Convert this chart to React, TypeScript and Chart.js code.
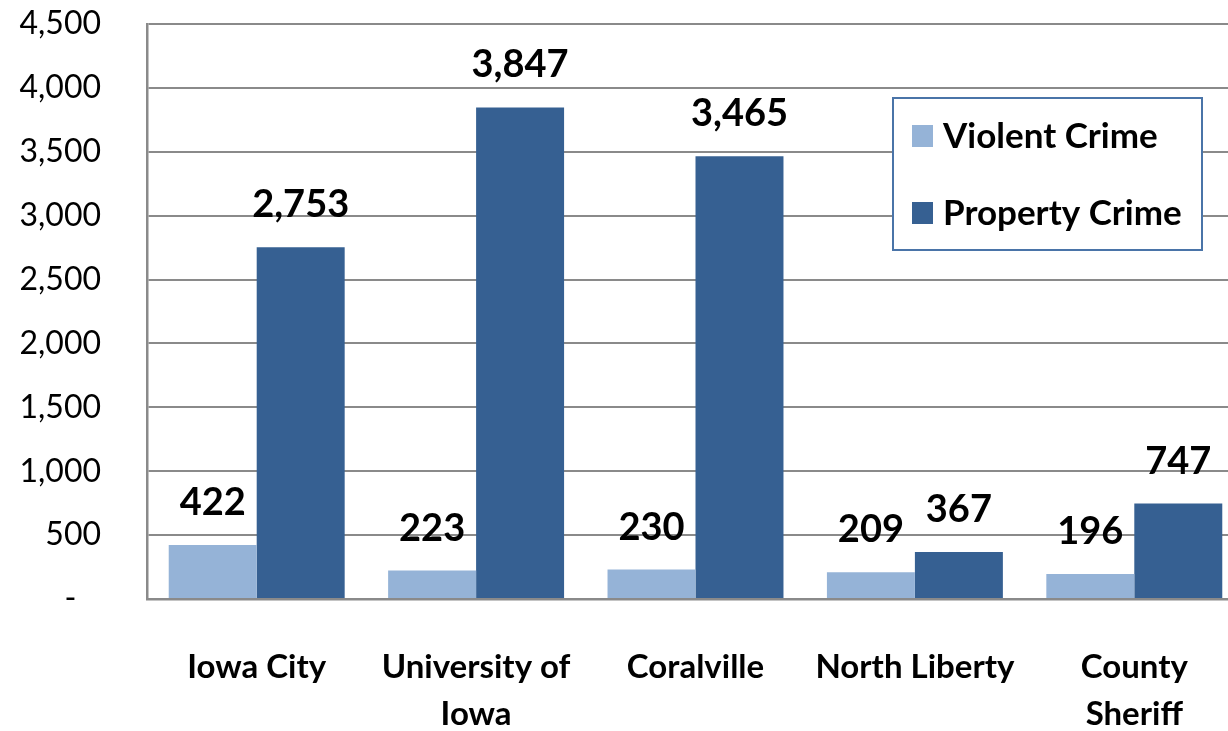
import React, { useEffect, useRef } from "react";
import { Chart, registerables } from "chart.js";

Chart.register(...registerables);

const categories: (string | string[])[] = [
  "Iowa City",
  ["University of", "Iowa"],
  "Coralville",
  "North Liberty",
  ["County", "Sheriff"],
];
const violentCrime = [422, 223, 230, 209, 196];
const propertyCrime = [2753, 3847, 3465, 367, 747];
const seriesNames = ["Violent Crime", "Property Crime"];
const seriesColors = ["#95B3D7", "#366092"];

const FONT = "Lato, 'Open Sans', 'DejaVu Sans', sans-serif";

const valueLabels = {
  id: "valueLabels",
  afterDatasetsDraw(chart: any) {
    const ctx = chart.ctx;
    ctx.save();
    ctx.font = `bold 38px ${FONT}`;
    ctx.fillStyle = "#000";
    ctx.textAlign = "center";
    ctx.textBaseline = "alphabetic";
    chart.data.datasets.forEach((ds: any, i: number) => {
      const meta = chart.getDatasetMeta(i);
      meta.data.forEach((bar: any, j: number) => {
        const v = ds.data[j];
        ctx.fillText(Number(v).toLocaleString("en-US"), bar.x, bar.y - 30);
      });
    });
    ctx.restore();
  },
};

const boxLegend = {
  id: "boxLegend",
  afterDraw(chart: any) {
    const ctx = chart.ctx;
    ctx.save();
    const x = 893, y = 98, w = 309, h = 152;
    ctx.fillStyle = "#fff";
    ctx.fillRect(x, y, w, h);
    ctx.strokeStyle = "#4A74A8";
    ctx.lineWidth = 2;
    ctx.strokeRect(x, y, w, h);
    ctx.font = `bold 35px ${FONT}`;
    ctx.textBaseline = "middle";
    ctx.textAlign = "left";
    chart.data.datasets.forEach((ds: any, i: number) => {
      const cy = 136 + i * 77;
      ctx.fillStyle = ds.backgroundColor;
      ctx.fillRect(912, cy - 11, 21, 22);
      ctx.fillStyle = "#000";
      ctx.fillText(ds.label, 943, cy + 1);
    });
    ctx.restore();
  },
};

export default function App() {
  const ref = useRef<HTMLCanvasElement | null>(null);
  useEffect(() => {
    if (!ref.current) return;
    const chart = new Chart(ref.current, {
      type: "bar",
      data: {
        labels: categories,
        datasets: [
          { label: seriesNames[0], data: violentCrime, backgroundColor: seriesColors[0] },
          { label: seriesNames[1], data: propertyCrime, backgroundColor: seriesColors[1] },
        ],
      },
      options: {
        responsive: false,
        animation: false,
        devicePixelRatio: 1,
        layout: { padding: { top: 24, right: 0, left: 0, bottom: 0 } },
        datasets: { bar: { categoryPercentage: 0.802, barPercentage: 1 } },
        plugins: { legend: { display: false }, tooltip: { enabled: false } },
        scales: {
          x: {
            grid: { display: false, drawTicks: false },
            border: { display: true, color: "#8A8A8A", width: 2.5 },
            ticks: {
              color: "#000",
              font: { family: FONT, size: 33, weight: "bold", lineHeight: 1.45 },
              padding: 44,
              maxRotation: 0,
              autoSkip: false,
            },
            afterFit(scale: any) {
              scale.height = 132;
              scale.paddingLeft = 0;
              scale.paddingRight = 0;
            },
          },
          y: {
            min: 0,
            max: 4500,
            grid: { color: "#8A8A8A", lineWidth: 2, drawTicks: false },
            border: { display: true, color: "#8A8A8A", width: 2.5 },
            ticks: {
              stepSize: 500,
              color: "#000",
              font: { family: FONT, size: 32 },
              padding: 46,
              callback: (v: any) => (Number(v) === 0 ? "-   " : Number(v).toLocaleString("en-US")),
            },
            afterFit(scale: any) {
              scale.width = 147;
              scale.paddingTop = 0;
              scale.paddingBottom = 0;
            },
          },
        },
      },
      plugins: [valueLabels, boxLegend],
    } as any);
    return () => chart.destroy();
  }, []);
  return (
    <div style={{ position: "absolute", left: 0, top: 0, width: 1228, height: 731, overflow: "hidden", background: "#fff" }}>
      <canvas ref={ref} width={1244} height={731} style={{ display: "block" }} />
    </div>
  );
}
